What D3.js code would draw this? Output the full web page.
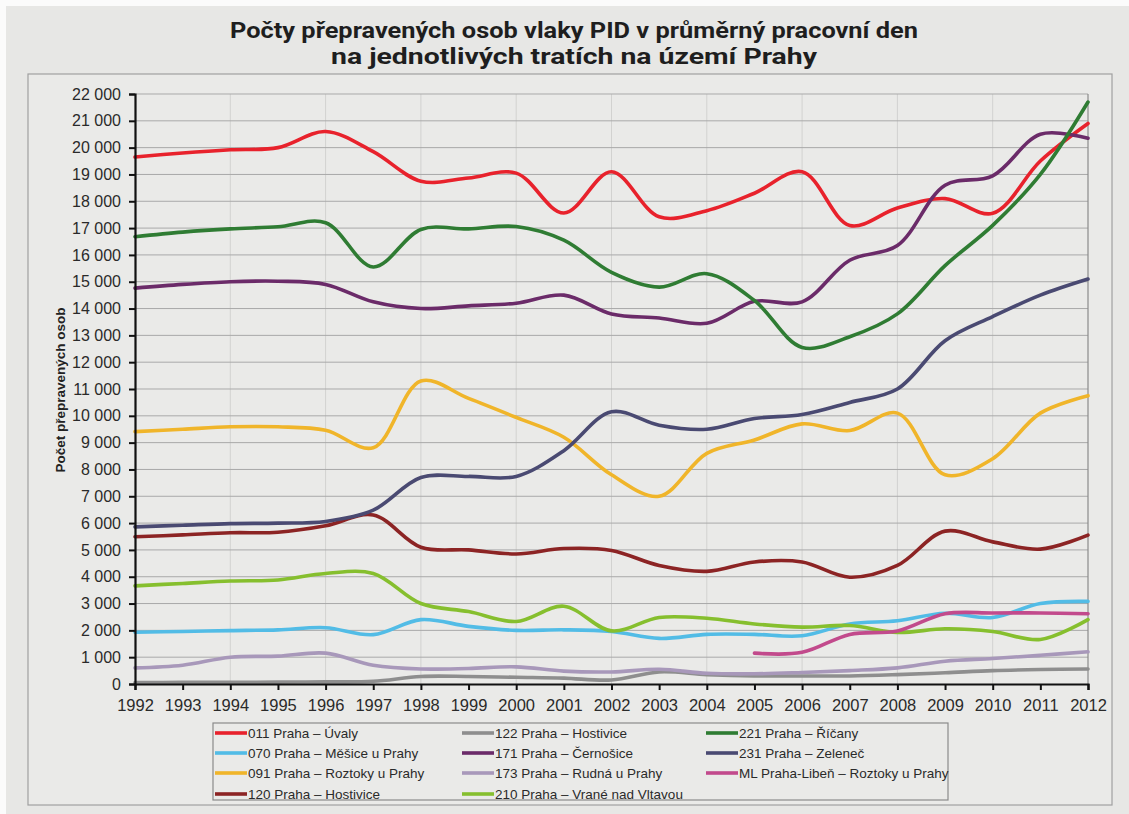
<!DOCTYPE html>
<html><head><meta charset="utf-8">
<script src="https://cdn.jsdelivr.net/npm/d3@7"></script>
<style>
html,body{margin:0;padding:0;background:#ffffff;}
svg{display:block;}
</style></head>
<body>
<svg id="chart" width="1129" height="814"></svg>
<script>
const titleLines = ["Počty přepravených osob vlaky PID v průměrný pracovní den", "na jednotlivých tratích na území Prahy"];
const yAxisTitle = "Počet přepravených osob";
const years = [1992,1993,1994,1995,1996,1997,1998,1999,2000,2001,2002,2003,2004,2005,2006,2007,2008,2009,2010,2011,2012];
const yTicks = [0,1000,2000,3000,4000,5000,6000,7000,8000,9000,10000,11000,12000,13000,14000,15000,16000,17000,18000,19000,20000,21000,22000];

const names = ["011 Praha – Úvaly","070 Praha – Měšice u Prahy","091 Praha – Roztoky u Prahy","120 Praha – Hostivice","122 Praha – Hostivice","171 Praha – Černošice","173 Praha – Rudná u Prahy","210 Praha – Vrané nad Vltavou","221 Praha – Říčany","231 Praha – Zeleneč","ML Praha-Libeň – Roztoky u Prahy"];
const colors = ["#e8222c","#52bce6","#f0b52a","#8c2424","#8e8e8e","#6b2b69","#a898ba","#86bf2e","#2f7c33","#4a4a72","#c24a8c"];

const s011 = [19650,19800,19920,20000,20600,19850,18750,18870,19050,17560,19100,17420,17650,18300,19100,17100,17750,18100,17550,19500,20900];
const s070 = [1930,1960,1990,2020,2100,1840,2400,2150,2000,2020,1960,1700,1850,1850,1800,2240,2360,2640,2480,3000,3080];
const s091 = [9410,9500,9590,9590,9460,8810,11300,10650,9940,9200,7800,7000,8600,9100,9700,9450,10100,7800,8400,10100,10750];
const s120 = [5490,5560,5640,5660,5900,6300,5100,5000,4850,5050,4980,4420,4200,4550,4550,3980,4420,5700,5300,5030,5550];
const s122 = [50,60,60,70,80,100,280,280,250,220,150,450,350,300,300,300,350,420,500,540,560];
const s171 = [14760,14900,15000,15020,14900,14250,14000,14100,14200,14500,13800,13650,13450,14270,14250,15800,16350,18600,18950,20500,20350];
const s173 = [600,700,1000,1040,1150,700,560,580,640,480,450,550,400,380,430,500,600,850,950,1070,1200];
const s210 = [3660,3750,3840,3880,4120,4120,3000,2700,2330,2900,1980,2480,2450,2240,2120,2180,1920,2060,1960,1660,2400];
const s221 = [16680,16850,16970,17050,17200,15550,16950,16970,17060,16550,15350,14800,15300,14300,12550,12950,13800,15600,17100,19000,21700];
const s231 = [5860,5920,5980,6000,6060,6480,7700,7740,7740,8700,10150,9650,9500,9900,10050,10500,11000,12800,13700,14500,15100];
const sML  = [null,null,null,null,null,null,null,null,null,null,null,null,null,1150,1180,1850,1980,2620,2650,2650,2620];

const seriesValues = [s011,s070,s091,s120,s122,s171,s173,s210,s221,s231,sML];
const series = names.map((n,i)=>({name:n,color:colors[i],values:seriesValues[i]}));

const svg = d3.select("#chart");
const W = 1129, H = 814;
const x = d3.scaleLinear().domain([1992,2012]).range([135,1088]);
const y = d3.scaleLinear().domain([0,22000]).range([684,94]);
const fmt = v => d3.format(",")(v).replace(/,/g," ");
const sans = "'Liberation Sans', Arial, sans-serif";

// background (photo paper)
svg.append("rect").attr("x",0).attr("y",0).attr("width",W).attr("height",H).attr("fill","#fbfbfb");
svg.append("rect").attr("x",6).attr("y",6).attr("width",W-6).attr("height",H-6).attr("fill","#e7e7e5");
// chart frame
svg.append("rect").attr("x",28).attr("y",74).attr("width",1084).attr("height",731)
  .attr("fill","#eaeae8").attr("stroke","#a0a0a0").attr("stroke-width",1.2);

// title
const titleW = [688, 486];
titleLines.forEach((t,i)=>{
  svg.append("text").attr("x",574).attr("y",30+i*26).attr("text-anchor","middle")
    .attr("dominant-baseline","central")
    .attr("font-family","Roboto, 'Open Sans', sans-serif").attr("font-weight",700).attr("font-size",22)
    .attr("textLength",titleW[i]).attr("lengthAdjust","spacingAndGlyphs")
    .attr("fill","#1e1e1e").text(t);
});

// vertical faint grid
svg.append("g").selectAll("line").data(years.filter(d=>d%2===0 && d>1992 && d<2012)).join("line")
  .attr("x1",d=>x(d)).attr("x2",d=>x(d)).attr("y1",y(22000)).attr("y2",y(0))
  .attr("stroke","#d2d2d0").attr("stroke-width",1);
// horizontal grid
svg.append("g").selectAll("line").data(yTicks.filter(d=>d>0)).join("line")
  .attr("x1",x(1992)).attr("x2",x(2012)).attr("y1",d=>y(d)).attr("y2",d=>y(d))
  .attr("stroke","#a9a9a9").attr("stroke-width",1);
// right border
svg.append("line").attr("x1",x(2012)).attr("x2",x(2012)).attr("y1",y(22000)).attr("y2",y(0))
  .attr("stroke","#8a8a8a").attr("stroke-width",1.2);

// lines
const line = d3.line().defined(d=>d.v!=null).x(d=>x(d.yr)).y(d=>y(d.v)).curve(d3.curveCatmullRom.alpha(0.5));
svg.append("g").selectAll("path").data(series).join("path")
  .attr("d",s=>line(s.values.map((v,i)=>({yr:years[i],v}))))
  .attr("fill","none").attr("stroke",s=>s.color).attr("stroke-width",3.6)
  .attr("stroke-linejoin","round").attr("stroke-linecap","round");

// axes
const yAxis = d3.axisLeft(y).tickValues(yTicks).tickFormat(fmt).tickSize(6).tickPadding(8);
const gy = svg.append("g").attr("transform",`translate(${x(1992)},0)`).call(yAxis);
gy.selectAll("text").attr("font-family",sans).attr("font-size",16).attr("fill","#2a2a2a");
gy.selectAll("line").attr("stroke","#111").attr("stroke-width",2);
gy.select(".domain").attr("stroke","#111").attr("stroke-width",2.2);

const xAxis = d3.axisBottom(x).tickValues(years).tickFormat(d3.format("d")).tickSize(6).tickPadding(9);
const gx = svg.append("g").attr("transform",`translate(0,${y(0)})`).call(xAxis);
gx.selectAll("text").attr("font-family",sans).attr("font-size",16.5).attr("fill","#2a2a2a");
gx.selectAll("line").attr("stroke","#111").attr("stroke-width",2);
gx.select(".domain").attr("stroke","#111").attr("stroke-width",2.2);

// y-axis title
svg.append("text").attr("transform","translate(60,390) rotate(-90)").attr("text-anchor","middle")
  .attr("dominant-baseline","central")
  .attr("font-family",sans).attr("font-weight",700).attr("font-size",13.5).attr("fill","#222").text(yAxisTitle);

// legend
svg.append("rect").attr("x",213).attr("y",723).attr("width",735).attr("height",77)
  .attr("fill","none").attr("stroke","#8a8a8a").attr("stroke-width",1.2);
const colX = [215,462,706];
const rowY = [733,753,773,794];
const lg = svg.append("g").selectAll("g").data(series).join("g")
  .attr("transform",(d,i)=>`translate(${colX[Math.floor(i/4)]},${rowY[i%4]})`);
lg.append("line").attr("x1",0).attr("x2",32).attr("y1",0).attr("y2",0)
  .attr("stroke",d=>d.color).attr("stroke-width",3.6);
lg.append("text").attr("x",33).attr("y",0).attr("dominant-baseline","central")
  .attr("font-family",sans).attr("font-size",13.5).attr("fill","#2a2a2a").text(d=>d.name);
</script>
</body></html>
